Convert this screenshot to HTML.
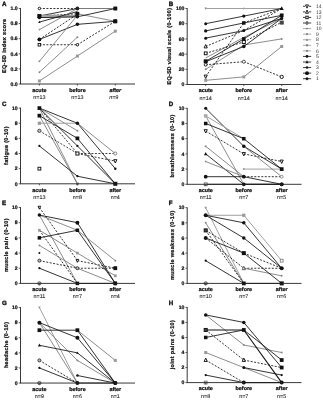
<!DOCTYPE html>
<html><head><meta charset="utf-8"><style>
html,body{margin:0;padding:0;background:#fff;width:323px;height:400px;overflow:hidden;}
svg{display:block;font-family:"Liberation Sans", sans-serif;will-change:transform;}
text{stroke:#111;stroke-width:0.24px;text-rendering:geometricPrecision;}
</style></head><body>
<svg width="323" height="400" viewBox="0 0 323 400" font-family='"Liberation Sans", sans-serif'>
<line x1="39.40" y1="8.50" x2="77.40" y2="8.50" stroke="#111" stroke-width="0.85" stroke-dasharray="2.0,1.5"/>
<line x1="77.40" y1="8.50" x2="115.30" y2="8.50" stroke="#a0a0a0" stroke-width="1.0"/>
<line x1="39.40" y1="16.05" x2="77.40" y2="8.50" stroke="#111" stroke-width="0.85"/>
<line x1="39.40" y1="16.05" x2="77.40" y2="13.78" stroke="#111" stroke-width="0.85" stroke-dasharray="2.0,1.5"/>
<line x1="77.40" y1="13.78" x2="115.30" y2="21.34" stroke="#707070" stroke-width="0.8"/>
<line x1="39.40" y1="15.67" x2="77.40" y2="15.67" stroke="#a0a0a0" stroke-width="2.0"/>
<line x1="39.40" y1="17.56" x2="77.40" y2="16.80" stroke="#a0a0a0" stroke-width="1.0"/>
<line x1="39.40" y1="17.56" x2="77.40" y2="16.80" stroke="#111" stroke-width="0.85"/>
<line x1="77.40" y1="16.80" x2="115.30" y2="8.50" stroke="#111" stroke-width="0.85"/>
<line x1="39.40" y1="22.09" x2="77.40" y2="11.52" stroke="#111" stroke-width="0.85"/>
<line x1="39.40" y1="29.64" x2="77.40" y2="8.50" stroke="#707070" stroke-width="0.8"/>
<line x1="77.40" y1="8.50" x2="115.30" y2="8.50" stroke="#707070" stroke-width="0.8"/>
<line x1="39.40" y1="39.46" x2="77.40" y2="14.16" stroke="#111" stroke-width="0.85" stroke-dasharray="2.0,1.5"/>
<line x1="39.40" y1="39.46" x2="77.40" y2="24.35" stroke="#111" stroke-width="0.85"/>
<line x1="77.40" y1="24.35" x2="115.30" y2="21.34" stroke="#111" stroke-width="0.85"/>
<line x1="39.40" y1="44.74" x2="77.40" y2="44.74" stroke="#111" stroke-width="0.85" stroke-dasharray="2.0,1.5"/>
<line x1="77.40" y1="44.74" x2="115.30" y2="21.34" stroke="#111" stroke-width="0.85" stroke-dasharray="2.0,1.5"/>
<line x1="39.40" y1="61.35" x2="77.40" y2="15.30" stroke="#707070" stroke-width="0.8"/>
<line x1="39.40" y1="72.30" x2="77.40" y2="37.19" stroke="#707070" stroke-width="0.8"/>
<line x1="39.40" y1="80.98" x2="77.40" y2="56.06" stroke="#707070" stroke-width="0.8"/>
<line x1="77.40" y1="56.06" x2="115.30" y2="31.15" stroke="#707070" stroke-width="0.8"/>
<circle cx="39.40" cy="8.50" r="1.27" fill="#fff" stroke="#111" stroke-width="0.95"/>
<circle cx="77.40" cy="8.50" r="1.88" fill="#222"/>
<rect x="37.52" y="14.17" width="3.75" height="3.75" fill="#111"/>
<rect x="37.52" y="14.17" width="3.75" height="3.75" fill="#111"/>
<rect x="75.53" y="11.91" width="3.75" height="3.75" fill="#111"/>
<rect x="75.90" y="12.28" width="3.00" height="3.00" fill="#111"/>
<rect x="113.80" y="19.84" width="3.00" height="3.00" fill="#111"/>
<circle cx="39.40" cy="17.56" r="1.75" fill="#111"/>
<circle cx="77.40" cy="16.80" r="1.75" fill="#111"/>
<circle cx="115.30" cy="8.50" r="1.75" fill="#111"/>
<path d="M39.40,20.67L40.65,23.04L38.15,23.04Z" fill="#111"/>
<path d="M39.40,30.92L40.52,28.79L38.27,28.79Z" fill="#999"/>
<circle cx="39.40" cy="39.46" r="1.88" fill="#111"/>
<circle cx="39.40" cy="39.46" r="1.75" fill="#111"/>
<circle cx="77.40" cy="24.35" r="1.75" fill="#111"/>
<circle cx="115.30" cy="21.34" r="1.75" fill="#111"/>
<rect x="38.12" y="43.47" width="2.55" height="2.55" fill="#fff" stroke="#111" stroke-width="0.95"/>
<circle cx="77.40" cy="44.74" r="1.27" fill="#fff" stroke="#111" stroke-width="0.95"/>
<rect x="113.55" y="19.59" width="3.50" height="3.50" fill="#111"/>
<circle cx="39.40" cy="61.35" r="0.94" fill="#888"/>
<circle cx="39.40" cy="72.30" r="0.94" fill="#888"/>
<circle cx="77.40" cy="37.19" r="0.94" fill="#888"/>
<rect x="37.90" y="79.48" width="3.00" height="3.00" fill="#999"/>
<rect x="75.90" y="54.56" width="3.00" height="3.00" fill="#999"/>
<rect x="113.80" y="29.65" width="3.00" height="3.00" fill="#999"/>
<rect x="113.36" y="6.56" width="3.88" height="3.88" fill="#111"/>
<rect x="113.36" y="19.40" width="3.88" height="3.88" fill="#111"/>
<line x1="20.50" y1="8.10" x2="20.50" y2="84.00" stroke="#222" stroke-width="0.9"/>
<line x1="20.05" y1="84.00" x2="135.00" y2="84.00" stroke="#222" stroke-width="0.9"/>
<line x1="39.40" y1="84.00" x2="39.40" y2="85.60" stroke="#222" stroke-width="0.7"/>
<line x1="77.40" y1="84.00" x2="77.40" y2="85.60" stroke="#222" stroke-width="0.7"/>
<line x1="115.30" y1="84.00" x2="115.30" y2="85.60" stroke="#222" stroke-width="0.7"/>
<line x1="18.70" y1="84.00" x2="20.50" y2="84.00" stroke="#222" stroke-width="0.7"/>
<text x="17.70" y="85.75" text-anchor="end" font-size="5.1" font-weight="bold" fill="#111">0.0</text>
<line x1="18.70" y1="68.90" x2="20.50" y2="68.90" stroke="#222" stroke-width="0.7"/>
<text x="17.70" y="70.65" text-anchor="end" font-size="5.1" font-weight="bold" fill="#111">0.2</text>
<line x1="18.70" y1="53.80" x2="20.50" y2="53.80" stroke="#222" stroke-width="0.7"/>
<text x="17.70" y="55.55" text-anchor="end" font-size="5.1" font-weight="bold" fill="#111">0.4</text>
<line x1="18.70" y1="38.70" x2="20.50" y2="38.70" stroke="#222" stroke-width="0.7"/>
<text x="17.70" y="40.45" text-anchor="end" font-size="5.1" font-weight="bold" fill="#111">0.6</text>
<line x1="18.70" y1="23.60" x2="20.50" y2="23.60" stroke="#222" stroke-width="0.7"/>
<text x="17.70" y="25.35" text-anchor="end" font-size="5.1" font-weight="bold" fill="#111">0.8</text>
<line x1="18.70" y1="8.50" x2="20.50" y2="8.50" stroke="#222" stroke-width="0.7"/>
<text x="17.70" y="10.25" text-anchor="end" font-size="5.1" font-weight="bold" fill="#111">1.0</text>
<text x="39.40" y="91.80" text-anchor="middle" font-size="5.4" font-weight="bold" fill="#111">acute</text>
<text x="39.40" y="99.00" text-anchor="middle" font-size="5.4" fill="#222" style="stroke-width:0.08px">n=13</text>
<text x="77.40" y="91.80" text-anchor="middle" font-size="5.4" font-weight="bold" fill="#111">before</text>
<text x="77.40" y="99.00" text-anchor="middle" font-size="5.4" fill="#222" style="stroke-width:0.08px">n=13</text>
<text x="115.30" y="91.80" text-anchor="middle" font-size="5.4" font-weight="bold" fill="#111" font-style="italic">after</text>
<text x="113.80" y="99.00" text-anchor="middle" font-size="5.4" fill="#222" style="stroke-width:0.08px" font-style="italic">n=9</text>
<text transform="translate(5.90,45.85) rotate(-90)" text-anchor="middle" font-size="5.5" letter-spacing="0.32" font-weight="bold" fill="#111">EQ-5D index score</text>
<text x="2.00" y="5.80" font-size="6.2" font-weight="bold" fill="#111" style="stroke-width:0.35px">A</text>
<line x1="205.70" y1="8.50" x2="243.80" y2="8.50" stroke="#a0a0a0" stroke-width="1.0"/>
<line x1="243.80" y1="8.50" x2="281.70" y2="8.50" stroke="#a0a0a0" stroke-width="1.0"/>
<line x1="205.70" y1="69.30" x2="243.80" y2="44.98" stroke="#707070" stroke-width="0.8"/>
<line x1="243.80" y1="44.98" x2="281.70" y2="38.90" stroke="#707070" stroke-width="0.8"/>
<line x1="205.70" y1="57.90" x2="243.80" y2="37.38" stroke="#707070" stroke-width="0.8"/>
<line x1="243.80" y1="37.38" x2="281.70" y2="18.38" stroke="#707070" stroke-width="0.8"/>
<line x1="205.70" y1="80.32" x2="243.80" y2="76.90" stroke="#707070" stroke-width="0.8"/>
<line x1="243.80" y1="76.90" x2="281.70" y2="46.50" stroke="#707070" stroke-width="0.8"/>
<line x1="205.70" y1="23.70" x2="243.80" y2="16.10" stroke="#111" stroke-width="0.85"/>
<line x1="243.80" y1="16.10" x2="281.70" y2="8.50" stroke="#111" stroke-width="0.85"/>
<line x1="205.70" y1="30.92" x2="243.80" y2="22.94" stroke="#111" stroke-width="0.85"/>
<line x1="243.80" y1="22.94" x2="281.70" y2="15.34" stroke="#111" stroke-width="0.85"/>
<line x1="205.70" y1="38.14" x2="243.80" y2="30.54" stroke="#111" stroke-width="0.85"/>
<line x1="243.80" y1="30.54" x2="281.70" y2="18.38" stroke="#111" stroke-width="0.85"/>
<line x1="205.70" y1="46.50" x2="243.80" y2="30.54" stroke="#111" stroke-width="0.85" stroke-dasharray="2.0,1.5"/>
<line x1="243.80" y1="30.54" x2="281.70" y2="8.50" stroke="#111" stroke-width="0.85" stroke-dasharray="2.0,1.5"/>
<line x1="205.70" y1="53.34" x2="243.80" y2="41.94" stroke="#111" stroke-width="0.85" stroke-dasharray="2.0,1.5"/>
<line x1="243.80" y1="41.94" x2="281.70" y2="22.18" stroke="#111" stroke-width="0.85" stroke-dasharray="2.0,1.5"/>
<line x1="205.70" y1="61.32" x2="243.80" y2="38.90" stroke="#111" stroke-width="0.85"/>
<line x1="243.80" y1="38.90" x2="281.70" y2="15.34" stroke="#111" stroke-width="0.85"/>
<line x1="205.70" y1="61.70" x2="243.80" y2="46.50" stroke="#111" stroke-width="0.85"/>
<line x1="243.80" y1="46.50" x2="281.70" y2="18.38" stroke="#111" stroke-width="0.85"/>
<line x1="205.70" y1="64.74" x2="243.80" y2="61.70" stroke="#111" stroke-width="0.85" stroke-dasharray="2.0,1.5"/>
<line x1="243.80" y1="61.70" x2="281.70" y2="76.90" stroke="#111" stroke-width="0.85" stroke-dasharray="2.0,1.5"/>
<line x1="205.70" y1="76.52" x2="243.80" y2="22.94" stroke="#111" stroke-width="0.85" stroke-dasharray="2.0,1.5"/>
<line x1="243.80" y1="22.94" x2="281.70" y2="8.50" stroke="#111" stroke-width="0.85" stroke-dasharray="2.0,1.5"/>
<path d="M205.70,10.07L207.07,7.46L204.32,7.46Z" fill="#999"/>
<path d="M243.80,9.78L244.93,7.64L242.68,7.64Z" fill="#999"/>
<circle cx="205.70" cy="69.30" r="1.00" fill="#888"/>
<circle cx="281.70" cy="38.90" r="1.00" fill="#888"/>
<rect x="204.20" y="78.82" width="3.00" height="3.00" fill="#999"/>
<rect x="242.30" y="75.40" width="3.00" height="3.00" fill="#999"/>
<rect x="280.20" y="45.00" width="3.00" height="3.00" fill="#999"/>
<circle cx="205.70" cy="23.70" r="1.50" fill="#111"/>
<circle cx="243.80" cy="16.10" r="1.62" fill="#111"/>
<circle cx="205.70" cy="30.92" r="1.62" fill="#111"/>
<rect x="242.05" y="21.19" width="3.50" height="3.50" fill="#111"/>
<rect x="279.82" y="13.47" width="3.75" height="3.75" fill="#111"/>
<circle cx="205.70" cy="38.14" r="1.50" fill="#111"/>
<circle cx="243.80" cy="30.54" r="1.50" fill="#111"/>
<circle cx="281.70" cy="18.38" r="1.62" fill="#111"/>
<path d="M205.70,44.54L207.27,47.92L204.12,47.92Z" fill="#fff" stroke="#111" stroke-width="0.95" stroke-linejoin="round"/>
<rect x="204.30" y="51.94" width="2.80" height="2.80" fill="#fff" stroke="#111" stroke-width="0.95"/>
<rect x="242.28" y="40.41" width="3.05" height="3.05" fill="#fff" stroke="#111" stroke-width="0.95"/>
<rect x="203.70" y="59.32" width="4.00" height="4.00" fill="#111"/>
<rect x="242.05" y="37.15" width="3.50" height="3.50" fill="#111"/>
<circle cx="243.80" cy="46.50" r="1.75" fill="#111"/>
<circle cx="205.70" cy="64.74" r="1.40" fill="#fff" stroke="#111" stroke-width="0.95"/>
<circle cx="243.80" cy="61.70" r="1.52" fill="#fff" stroke="#444" stroke-width="0.95"/>
<circle cx="281.70" cy="76.90" r="1.65" fill="#fff" stroke="#111" stroke-width="0.95"/>
<path d="M205.70,78.48L207.27,75.09L204.12,75.09Z" fill="#fff" stroke="#111" stroke-width="0.95" stroke-linejoin="round"/>
<path d="M281.70,6.22L283.70,10.02L279.70,10.02Z" fill="#111"/>
<rect x="280.18" y="21.04" width="3.05" height="3.05" fill="#444" stroke="#444" stroke-width="0.95"/>
<line x1="187.20" y1="8.10" x2="187.20" y2="84.50" stroke="#222" stroke-width="0.9"/>
<line x1="186.75" y1="84.50" x2="301.50" y2="84.50" stroke="#222" stroke-width="0.9"/>
<line x1="205.70" y1="84.50" x2="205.70" y2="86.10" stroke="#222" stroke-width="0.7"/>
<line x1="243.80" y1="84.50" x2="243.80" y2="86.10" stroke="#222" stroke-width="0.7"/>
<line x1="281.70" y1="84.50" x2="281.70" y2="86.10" stroke="#222" stroke-width="0.7"/>
<line x1="185.40" y1="84.50" x2="187.20" y2="84.50" stroke="#222" stroke-width="0.7"/>
<text x="184.40" y="86.25" text-anchor="end" font-size="5.1" font-weight="bold" fill="#111">0</text>
<line x1="185.40" y1="69.30" x2="187.20" y2="69.30" stroke="#222" stroke-width="0.7"/>
<text x="184.40" y="71.05" text-anchor="end" font-size="5.1" font-weight="bold" fill="#111">20</text>
<line x1="185.40" y1="54.10" x2="187.20" y2="54.10" stroke="#222" stroke-width="0.7"/>
<text x="184.40" y="55.85" text-anchor="end" font-size="5.1" font-weight="bold" fill="#111">40</text>
<line x1="185.40" y1="38.90" x2="187.20" y2="38.90" stroke="#222" stroke-width="0.7"/>
<text x="184.40" y="40.65" text-anchor="end" font-size="5.1" font-weight="bold" fill="#111">60</text>
<line x1="185.40" y1="23.70" x2="187.20" y2="23.70" stroke="#222" stroke-width="0.7"/>
<text x="184.40" y="25.45" text-anchor="end" font-size="5.1" font-weight="bold" fill="#111">80</text>
<line x1="185.40" y1="8.50" x2="187.20" y2="8.50" stroke="#222" stroke-width="0.7"/>
<text x="184.40" y="10.25" text-anchor="end" font-size="5.1" font-weight="bold" fill="#111">100</text>
<text x="205.70" y="92.30" text-anchor="middle" font-size="5.4" font-weight="bold" fill="#111">acute</text>
<text x="205.70" y="99.50" text-anchor="middle" font-size="5.4" fill="#222" style="stroke-width:0.08px">n=14</text>
<text x="243.80" y="92.30" text-anchor="middle" font-size="5.4" font-weight="bold" fill="#111">before</text>
<text x="243.80" y="99.50" text-anchor="middle" font-size="5.4" fill="#222" style="stroke-width:0.08px">n=14</text>
<text x="281.70" y="92.30" text-anchor="middle" font-size="5.4" font-weight="bold" fill="#111">after</text>
<text x="281.70" y="99.50" text-anchor="middle" font-size="5.4" fill="#222" style="stroke-width:0.08px">n=14</text>
<text transform="translate(170.60,46.10) rotate(-90)" text-anchor="middle" font-size="5.5" letter-spacing="0.32" font-weight="bold" fill="#111">EQ-5D visual scale (0-100)</text>
<text x="168.80" y="6.20" font-size="6.2" font-weight="bold" fill="#111" style="stroke-width:0.35px">B</text>
<line x1="39.40" y1="108.10" x2="77.40" y2="183.80" stroke="#707070" stroke-width="0.8"/>
<line x1="39.40" y1="115.67" x2="77.40" y2="183.80" stroke="#707070" stroke-width="0.8"/>
<line x1="39.40" y1="108.10" x2="77.40" y2="123.24" stroke="#111" stroke-width="0.85"/>
<line x1="77.40" y1="123.24" x2="115.30" y2="168.66" stroke="#111" stroke-width="0.85"/>
<line x1="77.40" y1="123.24" x2="115.30" y2="153.52" stroke="#707070" stroke-width="0.8"/>
<line x1="39.40" y1="108.10" x2="77.40" y2="130.81" stroke="#707070" stroke-width="0.8"/>
<line x1="39.40" y1="108.10" x2="77.40" y2="145.95" stroke="#111" stroke-width="0.85"/>
<line x1="77.40" y1="145.95" x2="115.30" y2="183.80" stroke="#111" stroke-width="0.85"/>
<line x1="39.40" y1="108.10" x2="77.40" y2="153.52" stroke="#111" stroke-width="0.85" stroke-dasharray="2.0,1.5"/>
<line x1="77.40" y1="153.52" x2="115.30" y2="161.09" stroke="#111" stroke-width="0.85" stroke-dasharray="2.0,1.5"/>
<line x1="39.40" y1="115.67" x2="77.40" y2="138.38" stroke="#111" stroke-width="0.85"/>
<line x1="77.40" y1="138.38" x2="115.30" y2="183.80" stroke="#111" stroke-width="0.85"/>
<line x1="39.40" y1="123.24" x2="77.40" y2="123.24" stroke="#a0a0a0" stroke-width="1.0"/>
<line x1="39.40" y1="130.81" x2="77.40" y2="153.52" stroke="#222" stroke-width="0.85" stroke-dasharray="2.0,1.5"/>
<line x1="77.40" y1="153.52" x2="115.30" y2="153.52" stroke="#222" stroke-width="0.85" stroke-dasharray="2.0,1.5"/>
<line x1="39.40" y1="145.95" x2="77.40" y2="176.23" stroke="#111" stroke-width="0.85"/>
<line x1="77.40" y1="176.23" x2="115.30" y2="183.80" stroke="#111" stroke-width="0.85"/>
<rect x="37.52" y="106.22" width="3.75" height="3.75" fill="#111"/>
<circle cx="77.40" cy="123.24" r="1.75" fill="#111"/>
<circle cx="115.30" cy="168.66" r="1.25" fill="#111"/>
<circle cx="77.40" cy="130.81" r="1.00" fill="#888"/>
<circle cx="77.40" cy="145.95" r="1.12" fill="#111"/>
<rect x="37.52" y="113.79" width="3.75" height="3.75" fill="#111"/>
<rect x="75.53" y="136.50" width="3.75" height="3.75" fill="#111"/>
<rect x="37.77" y="121.61" width="3.25" height="3.25" fill="#999"/>
<circle cx="39.40" cy="130.81" r="1.65" fill="#bbb" stroke="#444" stroke-width="0.95"/>
<rect x="75.88" y="152.00" width="3.05" height="3.05" fill="#fff" stroke="#111" stroke-width="0.95"/>
<circle cx="115.30" cy="153.52" r="1.52" fill="#fff" stroke="#777" stroke-width="0.95"/>
<circle cx="39.40" cy="145.95" r="1.12" fill="#111"/>
<circle cx="77.40" cy="176.23" r="1.12" fill="#111"/>
<rect x="38.00" y="167.26" width="2.80" height="2.80" fill="#fff" stroke="#111" stroke-width="0.95"/>
<path d="M115.30,163.05L116.88,159.66L113.72,159.66Z" fill="#fff" stroke="#111" stroke-width="0.95" stroke-linejoin="round"/>
<rect x="113.30" y="181.80" width="4.00" height="4.00" fill="#111"/>
<rect x="76.03" y="182.43" width="2.75" height="2.75" fill="#999"/>
<line x1="20.50" y1="107.70" x2="20.50" y2="183.80" stroke="#222" stroke-width="0.9"/>
<line x1="20.05" y1="183.80" x2="135.00" y2="183.80" stroke="#222" stroke-width="0.9"/>
<line x1="39.40" y1="183.80" x2="39.40" y2="185.40" stroke="#222" stroke-width="0.7"/>
<line x1="77.40" y1="183.80" x2="77.40" y2="185.40" stroke="#222" stroke-width="0.7"/>
<line x1="115.30" y1="183.80" x2="115.30" y2="185.40" stroke="#222" stroke-width="0.7"/>
<line x1="18.70" y1="183.80" x2="20.50" y2="183.80" stroke="#222" stroke-width="0.7"/>
<text x="17.70" y="185.55" text-anchor="end" font-size="5.1" font-weight="bold" fill="#111">0</text>
<line x1="18.70" y1="168.66" x2="20.50" y2="168.66" stroke="#222" stroke-width="0.7"/>
<text x="17.70" y="170.41" text-anchor="end" font-size="5.1" font-weight="bold" fill="#111">2</text>
<line x1="18.70" y1="153.52" x2="20.50" y2="153.52" stroke="#222" stroke-width="0.7"/>
<text x="17.70" y="155.27" text-anchor="end" font-size="5.1" font-weight="bold" fill="#111">4</text>
<line x1="18.70" y1="138.38" x2="20.50" y2="138.38" stroke="#222" stroke-width="0.7"/>
<text x="17.70" y="140.13" text-anchor="end" font-size="5.1" font-weight="bold" fill="#111">6</text>
<line x1="18.70" y1="123.24" x2="20.50" y2="123.24" stroke="#222" stroke-width="0.7"/>
<text x="17.70" y="124.99" text-anchor="end" font-size="5.1" font-weight="bold" fill="#111">8</text>
<line x1="18.70" y1="108.10" x2="20.50" y2="108.10" stroke="#222" stroke-width="0.7"/>
<text x="17.70" y="109.85" text-anchor="end" font-size="5.1" font-weight="bold" fill="#111">10</text>
<text x="39.40" y="191.60" text-anchor="middle" font-size="5.4" font-weight="bold" fill="#111">acute</text>
<text x="39.40" y="198.80" text-anchor="middle" font-size="5.4" fill="#222" style="stroke-width:0.08px">n=13</text>
<text x="77.40" y="191.60" text-anchor="middle" font-size="5.4" font-weight="bold" fill="#111">before</text>
<text x="77.40" y="198.80" text-anchor="middle" font-size="5.4" fill="#222" style="stroke-width:0.08px">n=8</text>
<text x="115.30" y="191.60" text-anchor="middle" font-size="5.4" font-weight="bold" fill="#111">after</text>
<text x="115.30" y="198.80" text-anchor="middle" font-size="5.4" fill="#222" style="stroke-width:0.08px">n=4</text>
<text transform="translate(7.80,145.55) rotate(-90)" text-anchor="middle" font-size="5.5" letter-spacing="0.32" font-weight="bold" fill="#111">fatigue (0-10)</text>
<text x="2.00" y="105.90" font-size="6.2" font-weight="bold" fill="#111" style="stroke-width:0.35px">C</text>
<line x1="205.70" y1="108.30" x2="243.80" y2="146.30" stroke="#111" stroke-width="0.85"/>
<line x1="243.80" y1="146.30" x2="281.70" y2="169.10" stroke="#111" stroke-width="0.85"/>
<line x1="205.70" y1="115.90" x2="243.80" y2="184.30" stroke="#707070" stroke-width="0.8"/>
<line x1="205.70" y1="115.90" x2="243.80" y2="138.70" stroke="#a0a0a0" stroke-width="1.0"/>
<line x1="205.70" y1="123.50" x2="243.80" y2="138.70" stroke="#111" stroke-width="0.85"/>
<line x1="243.80" y1="138.70" x2="281.70" y2="169.10" stroke="#111" stroke-width="0.85"/>
<line x1="205.70" y1="131.10" x2="243.80" y2="153.90" stroke="#111" stroke-width="0.85" stroke-dasharray="2.0,1.5"/>
<line x1="243.80" y1="153.90" x2="281.70" y2="161.50" stroke="#111" stroke-width="0.85" stroke-dasharray="2.0,1.5"/>
<line x1="205.70" y1="146.30" x2="243.80" y2="176.70" stroke="#707070" stroke-width="0.8"/>
<line x1="205.70" y1="153.90" x2="243.80" y2="184.30" stroke="#111" stroke-width="0.85"/>
<line x1="243.80" y1="184.30" x2="281.70" y2="184.30" stroke="#111" stroke-width="0.85"/>
<line x1="205.70" y1="161.50" x2="243.80" y2="176.70" stroke="#707070" stroke-width="0.8"/>
<line x1="243.80" y1="169.10" x2="281.70" y2="169.10" stroke="#a0a0a0" stroke-width="1.0"/>
<line x1="205.70" y1="176.70" x2="243.80" y2="176.70" stroke="#111" stroke-width="0.85"/>
<line x1="243.80" y1="176.70" x2="281.70" y2="184.30" stroke="#111" stroke-width="0.85"/>
<line x1="243.80" y1="176.70" x2="281.70" y2="176.70" stroke="#111" stroke-width="0.85" stroke-dasharray="2.0,1.5"/>
<line x1="243.80" y1="146.30" x2="281.70" y2="176.70" stroke="#707070" stroke-width="0.8"/>
<line x1="205.70" y1="184.30" x2="243.80" y2="184.30" stroke="#111" stroke-width="0.85"/>
<line x1="243.80" y1="184.30" x2="281.70" y2="184.30" stroke="#111" stroke-width="0.85"/>
<circle cx="205.70" cy="108.30" r="1.50" fill="#111"/>
<circle cx="243.80" cy="146.30" r="1.75" fill="#111"/>
<rect x="203.95" y="114.15" width="3.50" height="3.50" fill="#aaa"/>
<rect x="203.95" y="121.75" width="3.50" height="3.50" fill="#111"/>
<rect x="242.05" y="136.95" width="3.50" height="3.50" fill="#111"/>
<rect x="279.82" y="167.23" width="3.75" height="3.75" fill="#111"/>
<path d="M205.70,133.06L207.27,129.67L204.12,129.67Z" fill="#fff" stroke="#111" stroke-width="0.95" stroke-linejoin="round"/>
<path d="M243.80,155.86L245.38,152.47L242.23,152.47Z" fill="#fff" stroke="#111" stroke-width="0.95" stroke-linejoin="round"/>
<path d="M281.70,163.46L283.27,160.07L280.12,160.07Z" fill="#fff" stroke="#111" stroke-width="0.95" stroke-linejoin="round"/>
<circle cx="205.70" cy="146.30" r="1.12" fill="#999"/>
<path d="M205.70,151.91L207.45,155.23L203.95,155.23Z" fill="#111"/>
<circle cx="205.70" cy="161.50" r="0.94" fill="#999"/>
<circle cx="243.80" cy="169.10" r="1.00" fill="#999"/>
<circle cx="205.70" cy="176.70" r="1.88" fill="#111"/>
<circle cx="243.80" cy="176.70" r="1.88" fill="#111"/>
<circle cx="281.70" cy="184.30" r="1.88" fill="#111"/>
<circle cx="281.70" cy="176.70" r="1.40" fill="#fff" stroke="#888" stroke-width="0.95"/>
<rect x="204.30" y="182.90" width="2.80" height="2.80" fill="#fff" stroke="#666" stroke-width="0.95"/>
<circle cx="243.80" cy="184.30" r="1.88" fill="#111"/>
<circle cx="281.70" cy="184.30" r="1.88" fill="#111"/>
<line x1="187.20" y1="107.90" x2="187.20" y2="184.30" stroke="#222" stroke-width="0.9"/>
<line x1="186.75" y1="184.30" x2="301.50" y2="184.30" stroke="#222" stroke-width="0.9"/>
<line x1="205.70" y1="184.30" x2="205.70" y2="185.90" stroke="#222" stroke-width="0.7"/>
<line x1="243.80" y1="184.30" x2="243.80" y2="185.90" stroke="#222" stroke-width="0.7"/>
<line x1="281.70" y1="184.30" x2="281.70" y2="185.90" stroke="#222" stroke-width="0.7"/>
<line x1="185.40" y1="184.30" x2="187.20" y2="184.30" stroke="#222" stroke-width="0.7"/>
<text x="184.40" y="186.05" text-anchor="end" font-size="5.1" font-weight="bold" fill="#111">0</text>
<line x1="185.40" y1="169.10" x2="187.20" y2="169.10" stroke="#222" stroke-width="0.7"/>
<text x="184.40" y="170.85" text-anchor="end" font-size="5.1" font-weight="bold" fill="#111">2</text>
<line x1="185.40" y1="153.90" x2="187.20" y2="153.90" stroke="#222" stroke-width="0.7"/>
<text x="184.40" y="155.65" text-anchor="end" font-size="5.1" font-weight="bold" fill="#111">4</text>
<line x1="185.40" y1="138.70" x2="187.20" y2="138.70" stroke="#222" stroke-width="0.7"/>
<text x="184.40" y="140.45" text-anchor="end" font-size="5.1" font-weight="bold" fill="#111">6</text>
<line x1="185.40" y1="123.50" x2="187.20" y2="123.50" stroke="#222" stroke-width="0.7"/>
<text x="184.40" y="125.25" text-anchor="end" font-size="5.1" font-weight="bold" fill="#111">8</text>
<line x1="185.40" y1="108.30" x2="187.20" y2="108.30" stroke="#222" stroke-width="0.7"/>
<text x="184.40" y="110.05" text-anchor="end" font-size="5.1" font-weight="bold" fill="#111">10</text>
<text x="205.70" y="192.10" text-anchor="middle" font-size="5.4" font-weight="bold" fill="#111">acute</text>
<text x="205.70" y="199.30" text-anchor="middle" font-size="5.4" fill="#222" style="stroke-width:0.08px">n=11</text>
<text x="243.80" y="192.10" text-anchor="middle" font-size="5.4" font-weight="bold" fill="#111">before</text>
<text x="243.80" y="199.30" text-anchor="middle" font-size="5.4" fill="#222" style="stroke-width:0.08px">n=7</text>
<text x="281.70" y="192.10" text-anchor="middle" font-size="5.4" font-weight="bold" fill="#111">after</text>
<text x="281.70" y="199.30" text-anchor="middle" font-size="5.4" fill="#222" style="stroke-width:0.08px">n=5</text>
<text transform="translate(174.00,145.90) rotate(-90)" text-anchor="middle" font-size="5.5" letter-spacing="0.32" font-weight="bold" fill="#111">breathlessness (0-10)</text>
<text x="168.80" y="106.00" font-size="6.2" font-weight="bold" fill="#111" style="stroke-width:0.35px">D</text>
<line x1="39.40" y1="207.50" x2="77.40" y2="260.63" stroke="#111" stroke-width="0.85" stroke-dasharray="2.0,1.5"/>
<line x1="77.40" y1="260.63" x2="115.30" y2="268.22" stroke="#111" stroke-width="0.85" stroke-dasharray="2.0,1.5"/>
<line x1="39.40" y1="215.09" x2="77.40" y2="222.68" stroke="#111" stroke-width="0.85"/>
<line x1="77.40" y1="222.68" x2="115.30" y2="283.40" stroke="#111" stroke-width="0.85"/>
<line x1="39.40" y1="215.09" x2="77.40" y2="230.27" stroke="#707070" stroke-width="0.8"/>
<line x1="39.40" y1="215.09" x2="77.40" y2="283.40" stroke="#707070" stroke-width="0.8"/>
<line x1="39.40" y1="230.27" x2="77.40" y2="253.04" stroke="#707070" stroke-width="0.8"/>
<line x1="77.40" y1="253.04" x2="115.30" y2="275.81" stroke="#707070" stroke-width="0.8"/>
<line x1="39.40" y1="230.27" x2="77.40" y2="283.40" stroke="#111" stroke-width="0.85" stroke-dasharray="2.0,1.5"/>
<line x1="39.40" y1="237.86" x2="77.40" y2="230.27" stroke="#111" stroke-width="0.85"/>
<line x1="77.40" y1="230.27" x2="115.30" y2="283.40" stroke="#111" stroke-width="0.85"/>
<line x1="39.40" y1="245.45" x2="77.40" y2="268.22" stroke="#707070" stroke-width="0.8"/>
<line x1="77.40" y1="268.22" x2="115.30" y2="283.40" stroke="#707070" stroke-width="0.8"/>
<line x1="39.40" y1="260.63" x2="77.40" y2="268.22" stroke="#111" stroke-width="0.85" stroke-dasharray="2.0,1.5"/>
<line x1="77.40" y1="268.22" x2="115.30" y2="268.22" stroke="#111" stroke-width="0.85" stroke-dasharray="2.0,1.5"/>
<line x1="39.40" y1="268.22" x2="77.40" y2="283.40" stroke="#111" stroke-width="0.85"/>
<line x1="77.40" y1="230.27" x2="115.30" y2="260.63" stroke="#707070" stroke-width="0.8"/>
<line x1="77.40" y1="283.40" x2="115.30" y2="283.40" stroke="#111" stroke-width="0.85"/>
<path d="M39.40,209.20L40.73,206.26L38.07,206.26Z" fill="#fff" stroke="#111" stroke-width="0.95" stroke-linejoin="round"/>
<path d="M77.40,262.33L78.73,259.39L76.08,259.39Z" fill="#fff" stroke="#111" stroke-width="0.95" stroke-linejoin="round"/>
<path d="M115.30,269.92L116.62,266.98L113.97,266.98Z" fill="#fff" stroke="#111" stroke-width="0.95" stroke-linejoin="round"/>
<circle cx="39.40" cy="215.09" r="1.75" fill="#111"/>
<circle cx="77.40" cy="222.68" r="1.75" fill="#111"/>
<circle cx="115.30" cy="283.40" r="1.75" fill="#111"/>
<rect x="38.02" y="228.89" width="2.75" height="2.75" fill="#999"/>
<rect x="76.03" y="251.66" width="2.75" height="2.75" fill="#999"/>
<rect x="113.92" y="274.44" width="2.75" height="2.75" fill="#999"/>
<rect x="37.65" y="236.11" width="3.50" height="3.50" fill="#111"/>
<rect x="75.65" y="228.52" width="3.50" height="3.50" fill="#111"/>
<rect x="113.55" y="281.65" width="3.50" height="3.50" fill="#111"/>
<circle cx="39.40" cy="245.45" r="0.94" fill="#888"/>
<circle cx="39.40" cy="253.04" r="1.00" fill="#111"/>
<circle cx="39.40" cy="260.63" r="1.52" fill="#bbb" stroke="#333" stroke-width="0.95"/>
<circle cx="77.40" cy="268.22" r="1.52" fill="#bbb" stroke="#333" stroke-width="0.95"/>
<circle cx="39.40" cy="268.22" r="1.12" fill="#111"/>
<circle cx="77.40" cy="283.40" r="1.12" fill="#111"/>
<circle cx="39.40" cy="283.40" r="1.65" fill="#bbb" stroke="#555" stroke-width="0.95"/>
<circle cx="115.30" cy="260.63" r="1.00" fill="#888"/>
<circle cx="77.40" cy="222.68" r="1.88" fill="#111"/>
<rect x="113.42" y="266.34" width="3.75" height="3.75" fill="#111"/>
<rect x="75.65" y="281.65" width="3.50" height="3.50" fill="#111"/>
<rect x="113.55" y="281.65" width="3.50" height="3.50" fill="#111"/>
<line x1="20.50" y1="207.10" x2="20.50" y2="283.40" stroke="#222" stroke-width="0.9"/>
<line x1="20.05" y1="283.40" x2="135.00" y2="283.40" stroke="#222" stroke-width="0.9"/>
<line x1="39.40" y1="283.40" x2="39.40" y2="285.00" stroke="#222" stroke-width="0.7"/>
<line x1="77.40" y1="283.40" x2="77.40" y2="285.00" stroke="#222" stroke-width="0.7"/>
<line x1="115.30" y1="283.40" x2="115.30" y2="285.00" stroke="#222" stroke-width="0.7"/>
<line x1="18.70" y1="283.40" x2="20.50" y2="283.40" stroke="#222" stroke-width="0.7"/>
<text x="17.70" y="285.15" text-anchor="end" font-size="5.1" font-weight="bold" fill="#111">0</text>
<line x1="18.70" y1="268.22" x2="20.50" y2="268.22" stroke="#222" stroke-width="0.7"/>
<text x="17.70" y="269.97" text-anchor="end" font-size="5.1" font-weight="bold" fill="#111">2</text>
<line x1="18.70" y1="253.04" x2="20.50" y2="253.04" stroke="#222" stroke-width="0.7"/>
<text x="17.70" y="254.79" text-anchor="end" font-size="5.1" font-weight="bold" fill="#111">4</text>
<line x1="18.70" y1="237.86" x2="20.50" y2="237.86" stroke="#222" stroke-width="0.7"/>
<text x="17.70" y="239.61" text-anchor="end" font-size="5.1" font-weight="bold" fill="#111">6</text>
<line x1="18.70" y1="222.68" x2="20.50" y2="222.68" stroke="#222" stroke-width="0.7"/>
<text x="17.70" y="224.43" text-anchor="end" font-size="5.1" font-weight="bold" fill="#111">8</text>
<line x1="18.70" y1="207.50" x2="20.50" y2="207.50" stroke="#222" stroke-width="0.7"/>
<text x="17.70" y="209.25" text-anchor="end" font-size="5.1" font-weight="bold" fill="#111">10</text>
<text x="39.40" y="291.20" text-anchor="middle" font-size="5.4" font-weight="bold" fill="#111">acute</text>
<text x="39.40" y="298.40" text-anchor="middle" font-size="5.4" fill="#222" style="stroke-width:0.08px">n=11</text>
<text x="77.40" y="291.20" text-anchor="middle" font-size="5.4" font-weight="bold" fill="#111">before</text>
<text x="77.40" y="298.40" text-anchor="middle" font-size="5.4" fill="#222" style="stroke-width:0.08px">n=7</text>
<text x="115.30" y="291.20" text-anchor="middle" font-size="5.4" font-weight="bold" fill="#111">after</text>
<text x="115.30" y="298.40" text-anchor="middle" font-size="5.4" fill="#222" style="stroke-width:0.08px">n=4</text>
<text transform="translate(8.10,245.05) rotate(-90)" text-anchor="middle" font-size="5.5" letter-spacing="0.32" font-weight="bold" fill="#111">muscle pain (0-10)</text>
<text x="2.00" y="205.25" font-size="6.2" font-weight="bold" fill="#111" style="stroke-width:0.35px">E</text>
<line x1="205.70" y1="207.70" x2="243.80" y2="283.40" stroke="#a0a0a0" stroke-width="1.0"/>
<line x1="205.70" y1="215.27" x2="243.80" y2="215.27" stroke="#a0a0a0" stroke-width="1.0"/>
<line x1="243.80" y1="215.27" x2="281.70" y2="260.69" stroke="#a0a0a0" stroke-width="1.0"/>
<line x1="205.70" y1="222.84" x2="243.80" y2="283.40" stroke="#707070" stroke-width="0.8"/>
<line x1="205.70" y1="230.41" x2="243.80" y2="253.12" stroke="#111" stroke-width="0.85" stroke-dasharray="2.0,1.5"/>
<line x1="243.80" y1="253.12" x2="281.70" y2="268.26" stroke="#111" stroke-width="0.85" stroke-dasharray="2.0,1.5"/>
<line x1="205.70" y1="230.41" x2="243.80" y2="283.40" stroke="#111" stroke-width="0.85" stroke-dasharray="2.0,1.5"/>
<line x1="205.70" y1="237.98" x2="243.80" y2="268.26" stroke="#111" stroke-width="0.85" stroke-dasharray="2.0,1.5"/>
<line x1="243.80" y1="268.26" x2="281.70" y2="268.26" stroke="#111" stroke-width="0.85" stroke-dasharray="2.0,1.5"/>
<line x1="243.80" y1="268.26" x2="281.70" y2="275.83" stroke="#707070" stroke-width="0.8"/>
<line x1="205.70" y1="215.27" x2="243.80" y2="222.84" stroke="#111" stroke-width="0.85"/>
<line x1="243.80" y1="222.84" x2="281.70" y2="268.26" stroke="#111" stroke-width="0.85"/>
<line x1="205.70" y1="215.27" x2="243.80" y2="237.98" stroke="#111" stroke-width="0.85"/>
<line x1="243.80" y1="237.98" x2="281.70" y2="268.26" stroke="#111" stroke-width="0.85"/>
<line x1="205.70" y1="237.98" x2="243.80" y2="253.12" stroke="#111" stroke-width="0.85"/>
<line x1="243.80" y1="253.12" x2="281.70" y2="283.40" stroke="#111" stroke-width="0.85"/>
<line x1="205.70" y1="260.69" x2="243.80" y2="283.40" stroke="#111" stroke-width="0.85"/>
<line x1="243.80" y1="283.40" x2="281.70" y2="283.40" stroke="#111" stroke-width="0.85"/>
<path d="M205.70,209.27L207.07,206.66L204.32,206.66Z" fill="#999"/>
<rect x="242.18" y="213.64" width="3.25" height="3.25" fill="#999"/>
<circle cx="205.70" cy="222.84" r="1.00" fill="#888"/>
<path d="M243.80,266.30L245.38,269.69L242.23,269.69Z" fill="#fff" stroke="#555" stroke-width="0.95" stroke-linejoin="round"/>
<circle cx="281.70" cy="275.83" r="1.00" fill="#888"/>
<rect x="280.30" y="259.29" width="2.80" height="2.80" fill="#fff" stroke="#888" stroke-width="0.95"/>
<circle cx="205.70" cy="215.27" r="2.00" fill="#111"/>
<circle cx="243.80" cy="222.84" r="1.75" fill="#111"/>
<circle cx="281.70" cy="268.26" r="2.00" fill="#111"/>
<circle cx="243.80" cy="237.98" r="1.75" fill="#111"/>
<circle cx="205.70" cy="237.98" r="2.00" fill="#111"/>
<rect x="241.80" y="251.12" width="4.00" height="4.00" fill="#111"/>
<rect x="279.70" y="281.40" width="4.00" height="4.00" fill="#111"/>
<circle cx="205.70" cy="260.69" r="1.12" fill="#111"/>
<rect x="241.93" y="281.52" width="3.75" height="3.75" fill="#111"/>
<rect x="204.17" y="228.88" width="3.05" height="3.05" fill="#444" stroke="#111" stroke-width="0.95"/>
<circle cx="205.70" cy="283.40" r="1.65" fill="#bbb" stroke="#555" stroke-width="0.95"/>
<line x1="187.20" y1="207.30" x2="187.20" y2="283.40" stroke="#222" stroke-width="0.9"/>
<line x1="186.75" y1="283.40" x2="301.50" y2="283.40" stroke="#222" stroke-width="0.9"/>
<line x1="205.70" y1="283.40" x2="205.70" y2="285.00" stroke="#222" stroke-width="0.7"/>
<line x1="243.80" y1="283.40" x2="243.80" y2="285.00" stroke="#222" stroke-width="0.7"/>
<line x1="281.70" y1="283.40" x2="281.70" y2="285.00" stroke="#222" stroke-width="0.7"/>
<line x1="185.40" y1="283.40" x2="187.20" y2="283.40" stroke="#222" stroke-width="0.7"/>
<text x="184.40" y="285.15" text-anchor="end" font-size="5.1" font-weight="bold" fill="#111">0</text>
<line x1="185.40" y1="268.26" x2="187.20" y2="268.26" stroke="#222" stroke-width="0.7"/>
<text x="184.40" y="270.01" text-anchor="end" font-size="5.1" font-weight="bold" fill="#111">2</text>
<line x1="185.40" y1="253.12" x2="187.20" y2="253.12" stroke="#222" stroke-width="0.7"/>
<text x="184.40" y="254.87" text-anchor="end" font-size="5.1" font-weight="bold" fill="#111">4</text>
<line x1="185.40" y1="237.98" x2="187.20" y2="237.98" stroke="#222" stroke-width="0.7"/>
<text x="184.40" y="239.73" text-anchor="end" font-size="5.1" font-weight="bold" fill="#111">6</text>
<line x1="185.40" y1="222.84" x2="187.20" y2="222.84" stroke="#222" stroke-width="0.7"/>
<text x="184.40" y="224.59" text-anchor="end" font-size="5.1" font-weight="bold" fill="#111">8</text>
<line x1="185.40" y1="207.70" x2="187.20" y2="207.70" stroke="#222" stroke-width="0.7"/>
<text x="184.40" y="209.45" text-anchor="end" font-size="5.1" font-weight="bold" fill="#111">10</text>
<text x="205.70" y="291.20" text-anchor="middle" font-size="5.4" font-weight="bold" fill="#111">acute</text>
<text x="205.70" y="298.40" text-anchor="middle" font-size="5.4" fill="#222" style="stroke-width:0.08px">n=10</text>
<text x="243.80" y="291.20" text-anchor="middle" font-size="5.4" font-weight="bold" fill="#111">before</text>
<text x="243.80" y="298.40" text-anchor="middle" font-size="5.4" fill="#222" style="stroke-width:0.08px">n=7</text>
<text x="281.70" y="291.20" text-anchor="middle" font-size="5.4" font-weight="bold" fill="#111">after</text>
<text x="281.70" y="298.40" text-anchor="middle" font-size="5.4" fill="#222" style="stroke-width:0.08px">n=6</text>
<text transform="translate(174.00,245.15) rotate(-90)" text-anchor="middle" font-size="5.5" letter-spacing="0.32" font-weight="bold" fill="#111">muscle weakness (0-10)</text>
<text x="168.80" y="205.45" font-size="6.2" font-weight="bold" fill="#111" style="stroke-width:0.35px">F</text>
<line x1="39.40" y1="307.55" x2="77.40" y2="383.05" stroke="#a0a0a0" stroke-width="1.0"/>
<line x1="39.40" y1="322.65" x2="77.40" y2="360.40" stroke="#707070" stroke-width="0.8"/>
<line x1="77.40" y1="360.40" x2="115.30" y2="383.05" stroke="#707070" stroke-width="0.8"/>
<line x1="39.40" y1="322.65" x2="77.40" y2="383.05" stroke="#707070" stroke-width="0.8"/>
<line x1="77.40" y1="330.20" x2="115.30" y2="360.40" stroke="#707070" stroke-width="0.8"/>
<line x1="39.40" y1="322.65" x2="77.40" y2="337.75" stroke="#111" stroke-width="0.85"/>
<line x1="77.40" y1="337.75" x2="115.30" y2="383.05" stroke="#111" stroke-width="0.85"/>
<line x1="39.40" y1="330.20" x2="77.40" y2="330.20" stroke="#111" stroke-width="0.85"/>
<line x1="77.40" y1="330.20" x2="115.30" y2="383.05" stroke="#111" stroke-width="0.85"/>
<line x1="39.40" y1="345.30" x2="77.40" y2="352.85" stroke="#111" stroke-width="0.85"/>
<line x1="77.40" y1="352.85" x2="115.30" y2="383.05" stroke="#111" stroke-width="0.85"/>
<line x1="77.40" y1="375.50" x2="115.30" y2="383.05" stroke="#111" stroke-width="0.85"/>
<line x1="39.40" y1="360.40" x2="77.40" y2="383.05" stroke="#111" stroke-width="0.85" stroke-dasharray="2.0,1.5"/>
<line x1="39.40" y1="367.95" x2="77.40" y2="383.05" stroke="#111" stroke-width="0.85"/>
<line x1="77.40" y1="383.05" x2="115.30" y2="383.05" stroke="#111" stroke-width="0.85"/>
<path d="M39.40,309.12L40.77,306.50L38.02,306.50Z" fill="#999"/>
<circle cx="77.40" cy="360.40" r="1.00" fill="#888"/>
<rect x="113.80" y="358.90" width="3.00" height="3.00" fill="#999"/>
<circle cx="39.40" cy="322.65" r="2.00" fill="#111"/>
<circle cx="77.40" cy="337.75" r="2.00" fill="#111"/>
<circle cx="115.30" cy="383.05" r="2.00" fill="#111"/>
<rect x="37.52" y="328.32" width="3.75" height="3.75" fill="#111"/>
<rect x="75.53" y="328.32" width="3.75" height="3.75" fill="#111"/>
<path d="M39.40,343.59L40.90,346.44L37.90,346.44Z" fill="#111"/>
<path d="M77.40,351.43L78.65,353.80L76.15,353.80Z" fill="#111"/>
<circle cx="77.40" cy="375.50" r="1.25" fill="#111"/>
<circle cx="39.40" cy="360.40" r="1.52" fill="#bbb" stroke="#333" stroke-width="0.95"/>
<circle cx="39.40" cy="367.95" r="1.12" fill="#111"/>
<circle cx="39.40" cy="383.05" r="1.65" fill="#bbb" stroke="#555" stroke-width="0.95"/>
<circle cx="77.40" cy="383.05" r="2.00" fill="#111"/>
<circle cx="115.30" cy="383.05" r="2.00" fill="#111"/>
<line x1="20.50" y1="307.15" x2="20.50" y2="383.05" stroke="#222" stroke-width="0.9"/>
<line x1="20.05" y1="383.05" x2="135.00" y2="383.05" stroke="#222" stroke-width="0.9"/>
<line x1="39.40" y1="383.05" x2="39.40" y2="384.65" stroke="#222" stroke-width="0.7"/>
<line x1="77.40" y1="383.05" x2="77.40" y2="384.65" stroke="#222" stroke-width="0.7"/>
<line x1="115.30" y1="383.05" x2="115.30" y2="384.65" stroke="#222" stroke-width="0.7"/>
<line x1="18.70" y1="383.05" x2="20.50" y2="383.05" stroke="#222" stroke-width="0.7"/>
<text x="17.70" y="384.80" text-anchor="end" font-size="5.1" font-weight="bold" fill="#111">0</text>
<line x1="18.70" y1="367.95" x2="20.50" y2="367.95" stroke="#222" stroke-width="0.7"/>
<text x="17.70" y="369.70" text-anchor="end" font-size="5.1" font-weight="bold" fill="#111">2</text>
<line x1="18.70" y1="352.85" x2="20.50" y2="352.85" stroke="#222" stroke-width="0.7"/>
<text x="17.70" y="354.60" text-anchor="end" font-size="5.1" font-weight="bold" fill="#111">4</text>
<line x1="18.70" y1="337.75" x2="20.50" y2="337.75" stroke="#222" stroke-width="0.7"/>
<text x="17.70" y="339.50" text-anchor="end" font-size="5.1" font-weight="bold" fill="#111">6</text>
<line x1="18.70" y1="322.65" x2="20.50" y2="322.65" stroke="#222" stroke-width="0.7"/>
<text x="17.70" y="324.40" text-anchor="end" font-size="5.1" font-weight="bold" fill="#111">8</text>
<line x1="18.70" y1="307.55" x2="20.50" y2="307.55" stroke="#222" stroke-width="0.7"/>
<text x="17.70" y="309.30" text-anchor="end" font-size="5.1" font-weight="bold" fill="#111">10</text>
<text x="39.40" y="390.85" text-anchor="middle" font-size="5.4" font-weight="bold" fill="#111">acute</text>
<text x="39.40" y="398.05" text-anchor="middle" font-size="5.4" fill="#222" style="stroke-width:0.08px">n=9</text>
<text x="77.40" y="390.85" text-anchor="middle" font-size="5.4" font-weight="bold" fill="#111">before</text>
<text x="77.40" y="398.05" text-anchor="middle" font-size="5.4" fill="#222" style="stroke-width:0.08px">n=6</text>
<text x="115.30" y="390.85" text-anchor="middle" font-size="5.4" font-weight="bold" fill="#111">after</text>
<text x="115.30" y="398.05" text-anchor="middle" font-size="5.4" fill="#222" style="stroke-width:0.08px">n=1</text>
<text transform="translate(7.80,344.90) rotate(-90)" text-anchor="middle" font-size="5.5" letter-spacing="0.32" font-weight="bold" fill="#111">headache (0-10)</text>
<text x="2.00" y="304.65" font-size="6.2" font-weight="bold" fill="#111" style="stroke-width:0.35px">G</text>
<line x1="205.70" y1="314.92" x2="243.80" y2="345.00" stroke="#707070" stroke-width="0.8"/>
<line x1="243.80" y1="345.00" x2="281.70" y2="352.52" stroke="#707070" stroke-width="0.8"/>
<line x1="205.70" y1="352.52" x2="243.80" y2="367.56" stroke="#707070" stroke-width="0.8"/>
<line x1="243.80" y1="367.56" x2="281.70" y2="382.60" stroke="#707070" stroke-width="0.8"/>
<line x1="205.70" y1="314.92" x2="243.80" y2="322.44" stroke="#111" stroke-width="0.85"/>
<line x1="243.80" y1="322.44" x2="281.70" y2="367.56" stroke="#111" stroke-width="0.85"/>
<line x1="205.70" y1="329.96" x2="243.80" y2="329.96" stroke="#111" stroke-width="1.1"/>
<line x1="243.80" y1="329.96" x2="281.70" y2="382.60" stroke="#111" stroke-width="1.1"/>
<line x1="205.70" y1="329.96" x2="243.80" y2="360.04" stroke="#111" stroke-width="0.85" stroke-dasharray="2.0,1.5"/>
<line x1="243.80" y1="360.04" x2="281.70" y2="367.56" stroke="#111" stroke-width="0.85" stroke-dasharray="2.0,1.5"/>
<line x1="205.70" y1="337.48" x2="243.80" y2="329.96" stroke="#111" stroke-width="0.85"/>
<line x1="243.80" y1="329.96" x2="281.70" y2="360.04" stroke="#111" stroke-width="0.85"/>
<line x1="243.80" y1="367.56" x2="281.70" y2="375.08" stroke="#111" stroke-width="0.85"/>
<line x1="205.70" y1="360.04" x2="243.80" y2="382.60" stroke="#111" stroke-width="0.85" stroke-dasharray="2.0,1.5"/>
<line x1="205.70" y1="375.08" x2="243.80" y2="382.60" stroke="#111" stroke-width="0.85"/>
<line x1="243.80" y1="382.60" x2="281.70" y2="382.60" stroke="#111" stroke-width="0.85"/>
<line x1="243.80" y1="382.60" x2="281.70" y2="382.60" stroke="#111" stroke-width="0.85"/>
<circle cx="243.80" cy="345.00" r="1.00" fill="#888"/>
<circle cx="281.70" cy="352.52" r="1.00" fill="#888"/>
<rect x="204.20" y="351.02" width="3.00" height="3.00" fill="#999"/>
<circle cx="205.70" cy="314.92" r="1.75" fill="#111"/>
<circle cx="243.80" cy="322.44" r="1.75" fill="#111"/>
<rect x="279.82" y="365.69" width="3.75" height="3.75" fill="#111"/>
<rect x="241.93" y="328.08" width="3.75" height="3.75" fill="#111"/>
<rect x="203.95" y="335.73" width="3.50" height="3.50" fill="#111"/>
<rect x="279.82" y="358.17" width="3.75" height="3.75" fill="#111"/>
<circle cx="243.80" cy="367.56" r="1.50" fill="#111"/>
<circle cx="281.70" cy="375.08" r="1.12" fill="#111"/>
<path d="M205.70,358.08L207.27,361.47L204.12,361.47Z" fill="#fff" stroke="#111" stroke-width="0.95" stroke-linejoin="round"/>
<circle cx="205.70" cy="375.08" r="1.12" fill="#111"/>
<rect x="204.30" y="381.20" width="2.80" height="2.80" fill="#fff" stroke="#777" stroke-width="0.95"/>
<path d="M243.80,358.08L245.38,361.47L242.23,361.47Z" fill="#fff" stroke="#111" stroke-width="0.95" stroke-linejoin="round"/>
<circle cx="243.80" cy="382.60" r="2.00" fill="#111"/>
<circle cx="281.70" cy="382.60" r="2.00" fill="#111"/>
<rect x="204.17" y="328.44" width="3.05" height="3.05" fill="#444" stroke="#111" stroke-width="0.95"/>
<line x1="187.20" y1="307.00" x2="187.20" y2="382.60" stroke="#222" stroke-width="0.9"/>
<line x1="186.75" y1="382.60" x2="301.50" y2="382.60" stroke="#222" stroke-width="0.9"/>
<line x1="205.70" y1="382.60" x2="205.70" y2="384.20" stroke="#222" stroke-width="0.7"/>
<line x1="243.80" y1="382.60" x2="243.80" y2="384.20" stroke="#222" stroke-width="0.7"/>
<line x1="281.70" y1="382.60" x2="281.70" y2="384.20" stroke="#222" stroke-width="0.7"/>
<line x1="185.40" y1="382.60" x2="187.20" y2="382.60" stroke="#222" stroke-width="0.7"/>
<text x="184.40" y="384.35" text-anchor="end" font-size="5.1" font-weight="bold" fill="#111">0</text>
<line x1="185.40" y1="367.56" x2="187.20" y2="367.56" stroke="#222" stroke-width="0.7"/>
<text x="184.40" y="369.31" text-anchor="end" font-size="5.1" font-weight="bold" fill="#111">2</text>
<line x1="185.40" y1="352.52" x2="187.20" y2="352.52" stroke="#222" stroke-width="0.7"/>
<text x="184.40" y="354.27" text-anchor="end" font-size="5.1" font-weight="bold" fill="#111">4</text>
<line x1="185.40" y1="337.48" x2="187.20" y2="337.48" stroke="#222" stroke-width="0.7"/>
<text x="184.40" y="339.23" text-anchor="end" font-size="5.1" font-weight="bold" fill="#111">6</text>
<line x1="185.40" y1="322.44" x2="187.20" y2="322.44" stroke="#222" stroke-width="0.7"/>
<text x="184.40" y="324.19" text-anchor="end" font-size="5.1" font-weight="bold" fill="#111">8</text>
<line x1="185.40" y1="307.40" x2="187.20" y2="307.40" stroke="#222" stroke-width="0.7"/>
<text x="184.40" y="309.15" text-anchor="end" font-size="5.1" font-weight="bold" fill="#111">10</text>
<text x="205.70" y="390.40" text-anchor="middle" font-size="5.4" font-weight="bold" fill="#111">acute</text>
<text x="205.70" y="397.60" text-anchor="middle" font-size="5.4" fill="#222" style="stroke-width:0.08px">n=8</text>
<text x="243.80" y="390.40" text-anchor="middle" font-size="5.4" font-weight="bold" fill="#111">before</text>
<text x="243.80" y="397.60" text-anchor="middle" font-size="5.4" fill="#222" style="stroke-width:0.08px">n=7</text>
<text x="281.70" y="390.40" text-anchor="middle" font-size="5.4" font-weight="bold" fill="#111">after</text>
<text x="281.70" y="397.60" text-anchor="middle" font-size="5.4" fill="#222" style="stroke-width:0.08px">n=5</text>
<text transform="translate(173.50,344.60) rotate(-90)" text-anchor="middle" font-size="5.5" letter-spacing="0.32" font-weight="bold" fill="#111">joint pains (0-10)</text>
<text x="168.80" y="305.40" font-size="6.2" font-weight="bold" fill="#111" style="stroke-width:0.35px">H</text>
<line x1="303.0" y1="6.30" x2="305.0" y2="6.30" stroke="#111" stroke-width="0.8"/>
<line x1="309.0" y1="6.30" x2="311.2" y2="6.30" stroke="#111" stroke-width="0.8"/>
<path d="M307.00,8.18L308.50,4.93L305.50,4.93Z" fill="#fff" stroke="#111" stroke-width="0.95" stroke-linejoin="round"/>
<text x="316.0" y="8.05" font-size="5.0" fill="#333" style="stroke:none">14</text>
<line x1="303.0" y1="11.87" x2="305.0" y2="11.87" stroke="#111" stroke-width="0.8"/>
<line x1="309.0" y1="11.87" x2="311.2" y2="11.87" stroke="#111" stroke-width="0.8"/>
<path d="M307.00,9.99L308.50,13.24L305.50,13.24Z" fill="#fff" stroke="#111" stroke-width="0.95" stroke-linejoin="round"/>
<text x="316.0" y="13.62" font-size="5.0" fill="#333" style="stroke:none">13</text>
<line x1="303.0" y1="17.44" x2="305.0" y2="17.44" stroke="#111" stroke-width="0.8"/>
<line x1="309.0" y1="17.44" x2="311.2" y2="17.44" stroke="#111" stroke-width="0.8"/>
<rect x="305.78" y="16.22" width="2.45" height="2.45" fill="#fff" stroke="#111" stroke-width="0.95"/>
<text x="316.0" y="19.19" font-size="5.0" fill="#333" style="stroke:none">12</text>
<line x1="303.0" y1="23.01" x2="305.0" y2="23.01" stroke="#111" stroke-width="0.8"/>
<line x1="309.0" y1="23.01" x2="311.2" y2="23.01" stroke="#111" stroke-width="0.8"/>
<circle cx="307.00" cy="23.01" r="1.23" fill="#fff" stroke="#111" stroke-width="0.95"/>
<text x="316.0" y="24.76" font-size="5.0" fill="#333" style="stroke:none">11</text>
<line x1="303.0" y1="28.58" x2="311.2" y2="28.58" stroke="#888" stroke-width="0.7"/>
<path d="M307.00,27.38L308.20,28.58L307.00,29.78L305.80,28.58Z" fill="#888"/>
<text x="316.0" y="30.33" font-size="5.0" fill="#333" style="stroke:none">10</text>
<line x1="303.0" y1="34.15" x2="311.2" y2="34.15" stroke="#888" stroke-width="0.7"/>
<circle cx="307.00" cy="34.15" r="1.10" fill="#888"/>
<text x="316.0" y="35.90" font-size="5.0" fill="#333" style="stroke:none">9</text>
<line x1="303.0" y1="39.72" x2="311.2" y2="39.72" stroke="#888" stroke-width="0.7"/>
<path d="M307.00,38.24L308.30,40.71L305.70,40.71Z" fill="#888"/>
<text x="316.0" y="41.47" font-size="5.0" fill="#333" style="stroke:none">8</text>
<line x1="303.0" y1="45.29" x2="311.2" y2="45.29" stroke="#888" stroke-width="0.7"/>
<rect x="305.90" y="44.19" width="2.20" height="2.20" fill="#888"/>
<text x="316.0" y="47.04" font-size="5.0" fill="#333" style="stroke:none">7</text>
<line x1="303.0" y1="50.86" x2="311.2" y2="50.86" stroke="#888" stroke-width="0.7"/>
<circle cx="307.00" cy="50.86" r="1.20" fill="#888"/>
<text x="316.0" y="52.61" font-size="5.0" fill="#333" style="stroke:none">6</text>
<line x1="303.0" y1="56.43" x2="311.2" y2="56.43" stroke="#111" stroke-width="0.8"/>
<circle cx="307.00" cy="56.43" r="1.40" fill="#111"/>
<text x="316.0" y="58.18" font-size="5.0" fill="#333" style="stroke:none">5</text>
<line x1="303.0" y1="62.00" x2="311.2" y2="62.00" stroke="#111" stroke-width="0.8"/>
<path d="M307.00,60.29L308.50,63.14L305.50,63.14Z" fill="#111"/>
<text x="316.0" y="63.75" font-size="5.0" fill="#333" style="stroke:none">4</text>
<line x1="303.0" y1="67.57" x2="311.2" y2="67.57" stroke="#111" stroke-width="0.8"/>
<circle cx="307.00" cy="67.57" r="1.20" fill="#111"/>
<text x="316.0" y="69.32" font-size="5.0" fill="#333" style="stroke:none">3</text>
<line x1="303.0" y1="73.14" x2="311.2" y2="73.14" stroke="#111" stroke-width="0.8"/>
<circle cx="307.00" cy="73.14" r="1.90" fill="#111"/>
<text x="316.0" y="74.89" font-size="5.0" fill="#333" style="stroke:none">2</text>
<line x1="303.0" y1="78.71" x2="311.2" y2="78.71" stroke="#111" stroke-width="0.8"/>
<path d="M307.00,76.91L308.80,78.71L307.00,80.51L305.20,78.71Z" fill="#111"/>
<text x="316.0" y="80.46" font-size="5.0" fill="#333" style="stroke:none">1</text>
</svg>
</body></html>
